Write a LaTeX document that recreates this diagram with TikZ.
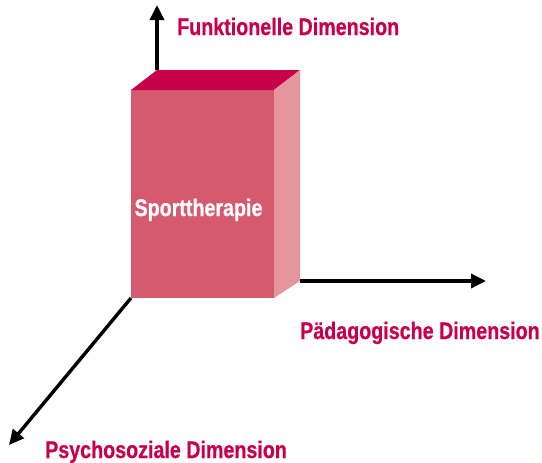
\documentclass[tikz,border=0pt]{standalone}
\usepackage{fontspec}
\newfontfamily\dimfont[FakeStretch=0.82,FakeBold=0.6]{Liberation Sans Bold}
\usetikzlibrary{arrows.meta}
\definecolor{dimred}{RGB}{200,0,75}
\definecolor{frontred}{RGB}{213,90,110}
\definecolor{sidered}{RGB}{228,150,156}
\definecolor{topred}{RGB}{200,0,75}
\begin{document}
\begin{tikzpicture}[x=1pt,y=1pt,yscale=-1,
    axis/.style={line width=3.4pt,-{Triangle[length=15pt,width=14pt]}},
    dimlabel/.style={text=dimred,font=\fontsize{24}{28}\dimfont,inner sep=0pt}]
    \useasboundingbox (0,0) rectangle (542,463);

    % Box corners
    \coordinate (ftl) at (131,90);
    \coordinate (ftr) at (274,90);
    \coordinate (fbl) at (131,298);
    \coordinate (fbr) at (274,298);
    \coordinate (btl) at (157,70);
    \coordinate (btr) at (300,70);
    \coordinate (bbr) at (300,281);

    % Axis ends
    \coordinate (funcend) at (157,5);
    \coordinate (paedend) at (486,281);
    \coordinate (psychend) at (9,445);

    % Axes
    \draw[axis] (btl) -- (funcend);
    \draw[axis] (bbr) -- (paedend);
    \draw[axis] (fbl) -- (psychend);

    % Box
    \fill[frontred] (ftl) rectangle (fbr);
    \fill[topred] (ftl) -- (btl) -- (btr) -- (ftr) -- cycle;
    \fill[sidered] (ftr) -- (btr) -- (bbr) -- (fbr) -- cycle;

    % Text Nodes
    \node[dimlabel,text=white,anchor=base] (sport) at (198.5,216) {Sporttherapie};
    \node[dimlabel,anchor=base west] (func) at (177,35) {Funktionelle Dimension};
    \node[dimlabel,anchor=base west] (paed) at (300,339) {Pädagogische Dimension};
    \node[dimlabel,anchor=base west] (psych) at (45,458) {Psychosoziale Dimension};
\end{tikzpicture}
\end{document}
